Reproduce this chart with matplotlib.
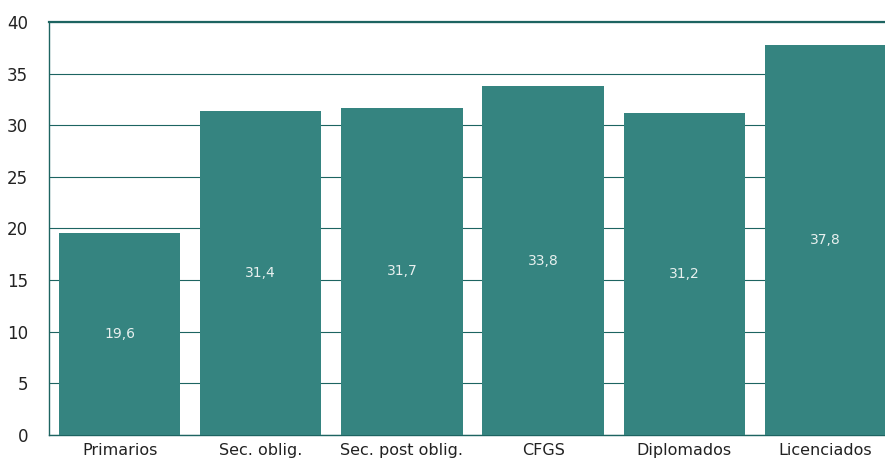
import matplotlib
matplotlib.use("Agg")
import matplotlib.pyplot as plt

categorias = ["Primarios", "Sec. oblig.", "Sec. post oblig.", "CFGS", "Diplomados", "Licenciados"]
valores = [19.6, 31.4, 31.7, 33.8, 31.2, 37.8]

bar_color = "#358480"
line_color = "#1d6461"

fig = plt.figure(figsize=(8.85, 4.58), dpi=100)
ax = fig.add_axes([49 / 885, 23 / 458, 847 / 885, 413 / 458])

x = range(len(categorias))
ax.bar(x, valores, width=0.86, color=bar_color, zorder=3)

for xi, v in zip(x, valores):
    ax.text(xi, v / 2, f"{v:.1f}".replace(".", ","), ha="center", va="center",
            color="#e8f0ef", fontsize=10, zorder=4)

ax.set_xlim(-0.5, 5.5)
ax.set_ylim(0, 40)
ax.set_yticks(range(0, 41, 5))
ax.set_xticks(list(x))
ax.set_xticklabels(categorias, fontsize=11.5, color="#222222")
ax.tick_params(axis="y", length=0, pad=15, labelsize=12, labelcolor="#222222")
ax.tick_params(axis="x", length=0, pad=6)

ax.grid(axis="y", color=line_color, linewidth=0.8, zorder=0)
ax.set_axisbelow(True)
ax.spines["right"].set_visible(False)
for side in ["left", "bottom", "top"]:
    ax.spines[side].set_color(line_color)
    ax.spines[side].set_linewidth(1.0)
ax.spines["top"].set_linewidth(1.6)

fig.savefig("out.png", dpi=100)
